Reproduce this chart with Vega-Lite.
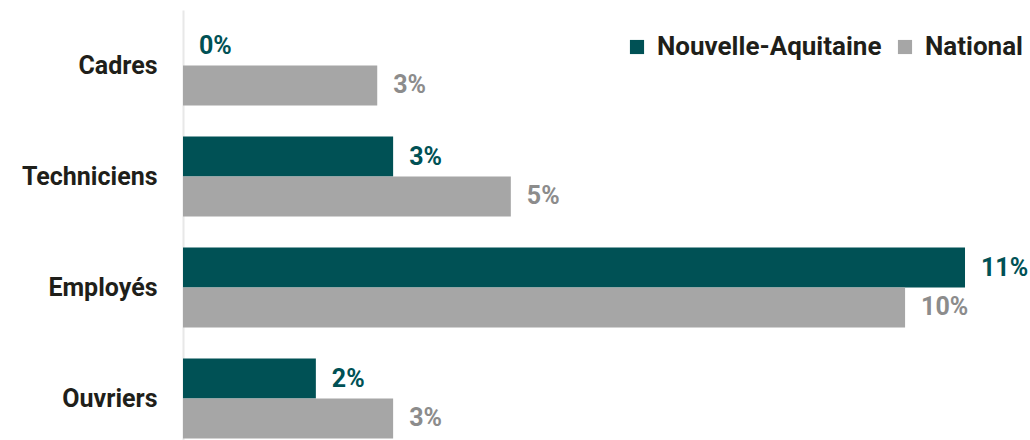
{
  "$schema": "https://vega.github.io/schema/vega-lite/v6.json",
  "width": 847,
  "height": 444,
  "autosize": {"type": "none"},
  "padding": {"left": 183, "top": 10, "right": 0, "bottom": 0},
  "config": {"view": {"stroke": null}, "font": "Roboto"},
  "data": {
    "values": [
      {"cat": "Cadres", "serie": "Nouvelle-Aquitaine", "val": 0.0, "label": "0%"},
      {"cat": "Cadres", "serie": "National", "val": 2.69, "label": "3%"},
      {"cat": "Techniciens", "serie": "Nouvelle-Aquitaine", "val": 2.91, "label": "3%"},
      {"cat": "Techniciens", "serie": "National", "val": 4.54, "label": "5%"},
      {"cat": "Employés", "serie": "Nouvelle-Aquitaine", "val": 10.83, "label": "11%"},
      {"cat": "Employés", "serie": "National", "val": 10.0, "label": "10%"},
      {"cat": "Ouvriers", "serie": "Nouvelle-Aquitaine", "val": 1.84, "label": "2%"},
      {"cat": "Ouvriers", "serie": "National", "val": 2.91, "label": "3%"}
    ]
  },
  "encoding": {
    "y": {
      "field": "cat", "type": "nominal",
      "sort": ["Cadres", "Techniciens", "Employés", "Ouvriers"],
      "scale": {"paddingInner": 0.28, "paddingOuter": 0.14},
      "axis": {
        "title": null, "ticks": false, "labelPadding": 26,
        "labelFontSize": 25, "labelFontWeight": "bold", "labelColor": "#1f1f1a",
        "domainColor": "#e8e8e8", "domainWidth": 2, "grid": false, "labelLimit": 0
      }
    },
    "yOffset": {
      "field": "serie", "type": "nominal",
      "sort": ["Nouvelle-Aquitaine", "National"],
      "scale": {"paddingInner": 0, "paddingOuter": 0}
    },
    "x": {
      "field": "val", "type": "quantitative",
      "scale": {"domain": [0, 11.73], "nice": false},
      "axis": null
    }
  },
  "layer": [
    {
      "mark": {"type": "bar"},
      "encoding": {
        "color": {
          "field": "serie", "type": "nominal",
          "sort": ["Nouvelle-Aquitaine", "National"],
          "scale": {"domain": ["Nouvelle-Aquitaine", "National"], "range": ["#005155", "#a6a6a6"]},
          "legend": {
            "title": null, "orient": "none", "direction": "horizontal",
            "legendX": 441, "legendY": 24,
            "symbolType": "square", "symbolSize": 200, "symbolStrokeWidth": 0,
            "labelFontSize": 26, "labelFontWeight": "bold", "labelColor": "#1f1f1a",
            "columnPadding": 10, "labelOffset": 7, "labelLimit": 0
          }
        }
      }
    },
    {
      "mark": {"type": "text", "align": "left", "baseline": "middle", "dx": 16, "fontSize": 25, "fontWeight": "bold"},
      "encoding": {
        "text": {"field": "label"},
        "color": {
          "condition": {"test": "datum.serie === 'National'", "value": "#8c8c8c"},
          "value": "#005155"
        }
      }
    }
  ]
}
